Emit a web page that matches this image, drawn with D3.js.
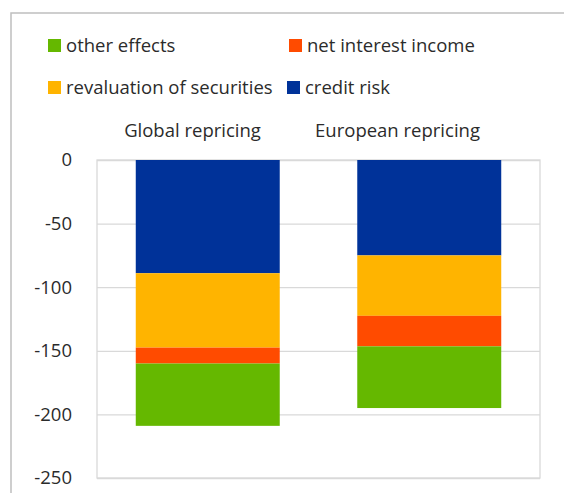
<!DOCTYPE html>
<html><head><meta charset="utf-8">
<script src="https://cdn.jsdelivr.net/npm/d3@7"></script>
<style>body{margin:0;background:#fff;} text{font-family:"Open Sans",sans-serif;fill:#2b2b2b;}</style>
</head><body><svg id="c" width="564" height="493"></svg>
<script>
const categories = ["Global repricing", "European repricing"];
const seriesNames = ["credit risk", "revaluation of securities", "net interest income", "other effects"];
const creditRisk = [-89, -75];
const revaluation = [-58.5, -47.5];
const netInterest = [-12.5, -24];
const otherEffects = [-49, -48.5];
const yTicks = [0, -50, -100, -150, -200, -250];
const colors = {"credit risk":"#003299","revaluation of securities":"#FFB400","net interest income":"#FF4B00","other effects":"#65B800"};

const svg = d3.select("#c");
const m = {left:97, right:540, top:160, bottom:478};
const fs = "18.5px";
// outer frame
svg.append("rect").attr("x",11).attr("y",13).attr("width",600).attr("height",600)
  .attr("fill","none").attr("stroke","#bfbfbf").attr("stroke-width",1.5);

const x = d3.scaleBand().domain(categories).range([m.left,m.right]).paddingInner(0.35).paddingOuter(0.175);
const y = d3.scaleLinear().domain([-250,0]).range([m.bottom,m.top]);

// gridlines
const yAxis = d3.axisLeft(y).tickValues(yTicks).tickSize(-(m.right-m.left)).tickFormat(d=>String(d));
const g = svg.append("g").attr("transform",`translate(${m.left},0)`).call(yAxis);
g.select(".domain").remove();
g.selectAll(".tick line").attr("stroke","#d9d9d9").attr("stroke-width",1.3);
g.selectAll(".tick text").attr("x",-25).style("font-size",fs).attr("fill","#2b2b2b").style("font-family","'Open Sans',sans-serif");
// plot border
svg.append("rect").attr("x",m.left).attr("y",m.top).attr("width",m.right-m.left).attr("height",m.bottom-m.top)
  .attr("fill","none").attr("stroke","#d9d9d9").attr("stroke-width",1.3);

const data = categories.map((c,i)=>({cat:c,"credit risk":creditRisk[i],"revaluation of securities":revaluation[i],"net interest income":netInterest[i],"other effects":otherEffects[i]}));
const stack = d3.stack().keys(seriesNames).offset(d3.stackOffsetDiverging)(data);
svg.append("g").selectAll("g").data(stack).join("g").attr("fill",d=>colors[d.key])
  .selectAll("rect").data(d=>d).join("rect")
  .attr("x",d=>x(d.data.cat)).attr("width",x.bandwidth())
  .attr("y",d=>y(Math.max(d[0],d[1]))).attr("height",d=>Math.abs(y(d[0])-y(d[1])));

// category labels
const catLabelX = [192.5, 397.5];
svg.selectAll(".cat").data(categories).join("text").attr("class","cat")
  .attr("x",(d,i)=>catLabelX[i]).attr("y",137).attr("text-anchor","middle").style("font-size",fs).text(d=>d);

// legend
const legendItems = [
  {name:"other effects", x:48, y:39},
  {name:"net interest income", x:289, y:39},
  {name:"revaluation of securities", x:48, y:81},
  {name:"credit risk", x:287, y:81}
];
const lg = svg.append("g").selectAll("g").data(legendItems).join("g").attr("transform",d=>`translate(${d.x},${d.y})`);
lg.append("rect").attr("width",13).attr("height",13).attr("fill",d=>colors[d.name]);
lg.append("text").attr("x",18).attr("y",12.5).style("font-size",fs).text(d=>d.name);
</script></body></html>
